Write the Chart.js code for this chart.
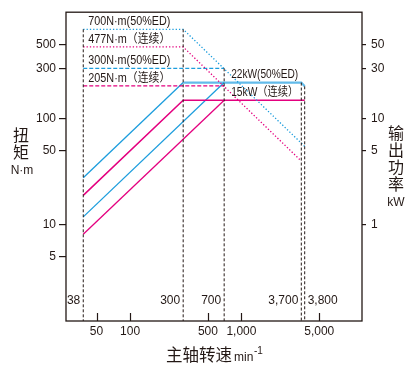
<!DOCTYPE html>
<html>
<head>
<meta charset="utf-8">
<script src="https://cdn.jsdelivr.net/npm/chart.js@4/dist/chart.umd.min.js"></script>
<style>
  html, body { margin: 0; padding: 0; background: #fff; }
  #wrap { width: 409px; height: 365px; position: relative; }
</style>
</head>
<body>
<div id="wrap"><canvas id="spindleChart" width="409" height="365"></canvas></div>
<script>
// tick values
const speedTicks = [50, 100, 500, 1000, 5000];
const torqueTicks = [5, 10, 50, 100, 300, 500];
const powerTicks = [1, 5, 10, 30, 50];

// torque curves (N·m, left axis)
const torque700Speed = [38, 300, 3700];
const torque700 = [700, 700, 55];
const torque477Speed = [38, 300, 3450];
const torque477 = [477, 477, 40];
const torque300Speed = [38, 700];
const torque300 = [300, 300];
const torque205Speed = [38, 700];
const torque205 = [205, 205];

// power curves (kW, right axis)
const power22riseSpeed = [38, 300];
const power22rise = [2.79, 22];
const power22flatSpeed = [300, 3450, 3700];
const power22flat = [22, 22, 20.3];
const power15aSpeed = [38, 300, 3700];
const power15a = [1.9, 15, 15];
const power22bSpeed = [38, 700];
const power22b = [1.19, 22];
const power15bSpeed = [38, 700];
const power15b = [0.816, 15];

// speed marker lines
const markSpeeds = [38, 300, 700, 3450, 3700];
const markTopTorque = [700, 700, 300, 220, 203];
const markLabels = ['38', '300', '700', '3,700', '3,800'];

const torqueLabels = ['700N·m(50%ED)', '477N·m（连续）', '300N·m(50%ED)', '205N·m（连续）'];
const torqueLabelValues = [700, 477, 300, 205];
const powerLabels = ['22kW(50%ED)', '15kW（连续）'];
const powerLabelValues = [22, 15];

const TORQUE_MIN = 1.24, TORQUE_MAX = 1015;
const INK = '#231815', BLUE = '#1c9ddd', PINK = '#e4007f', LIGHTBLUE = '#62bbea';
const NUM_FONT = '"Liberation Sans", Arial, sans-serif';
const CJK_FONT = '"Liberation Sans", "Noto Sans CJK SC", sans-serif';

const pts = (xs, ys) => xs.map((x, i) => ({ x, y: ys[i] }));
const line = (data, color, axis, extra) => Object.assign({
  data, borderColor: color, yAxisID: axis, showLine: true, pointRadius: 0,
  borderWidth: 1.2, fill: false, tension: 0
}, extra || {});

const markerSets = markSpeeds.map((s, i) =>
  line(pts([s, s], [markTopTorque[i], TORQUE_MIN]), INK, 'yT', { borderDash: [3, 2], borderWidth: 1 }));

const fmtSpeed = v => v >= 1000 ? v.toLocaleString('en-US') : String(v);

const decorPlugin = {
  id: 'decor',
  afterDatasetsDraw(chart) {
    const { ctx, chartArea: a, scales } = chart;
    const x = scales.x, yT = scales.yT, yP = scales.yP;
    ctx.save();
    ctx.strokeStyle = INK;
    ctx.lineWidth = 1.3;
    ctx.strokeRect(a.left, a.top, a.right - a.left, a.bottom - a.top);

    // x ticks pointing inward
    ctx.lineWidth = 1.2;
    speedTicks.forEach(v => {
      const px = Math.round(x.getPixelForValue(v)) + 0.5;
      ctx.beginPath(); ctx.moveTo(px, a.bottom); ctx.lineTo(px, a.bottom - 8); ctx.stroke();
    });

    ctx.fillStyle = INK;
    ctx.textBaseline = 'middle';
    ctx.font = '12px ' + CJK_FONT;
    ctx.textAlign = 'left';
    const lx = x.getPixelForValue(38) + 5;
    torqueLabels.forEach((t, i) => {
      ctx.fillText(t, lx, yT.getPixelForValue(torqueLabelValues[i]) - 7.5, 82);
    });
    const px = x.getPixelForValue(700) + 7;
    powerLabels.forEach((t, i) => {
      ctx.fillText(t, px, yP.getPixelForValue(powerLabelValues[i]) - 8, 67);
    });

    // speed labels
    ctx.font = '12px ' + NUM_FONT;
    const ly = a.bottom - 20;
    markLabels.forEach((t, i) => {
      const sx = x.getPixelForValue(markSpeeds[i]);
      if (i === markLabels.length - 1) { ctx.textAlign = 'left'; ctx.fillText(t, sx + 3, ly); }
      else { ctx.textAlign = 'right'; ctx.fillText(t, sx - 3, ly); }
    });

    // axis titles
    ctx.textAlign = 'center';
    ctx.font = '16px "Noto Sans CJK SC", sans-serif';
    ctx.fillText('扭', 21, 135);
    ctx.fillText('矩', 21, 152);
    ['输', '出', '功', '率'].forEach((c, i) => ctx.fillText(c, 396, 133 + i * 17));
    ctx.font = '12px ' + NUM_FONT;
    ctx.fillText('N·m', 22, 171);
    ctx.fillText('kW', 396, 203);

    ctx.textAlign = 'left';
    ctx.font = '16.5px "Noto Sans CJK SC", sans-serif';
    ctx.fillText('主轴转速', 166, 355);
    ctx.font = '12px ' + NUM_FONT;
    ctx.fillText('min', 234, 358);
    ctx.font = '10px ' + NUM_FONT;
    ctx.fillText('-1', 254, 351);
    ctx.restore();
  }
};

const tickFont = { family: NUM_FONT, size: 12 };

new Chart(document.getElementById('spindleChart'), {
  type: 'scatter',
  data: {
    datasets: [
      ...markerSets,
      line(pts(torque700Speed, torque700), BLUE, 'yT', { borderDash: [1.3, 2], borderWidth: 1.3 }),
      line(pts(torque477Speed, torque477), PINK, 'yT', { borderDash: [1.3, 2], borderWidth: 1.3 }),
      line(pts(torque300Speed, torque300), BLUE, 'yT', { borderDash: [4, 2] }),
      line(pts(torque205Speed, torque205), PINK, 'yT', { borderDash: [4, 2] }),
      line(pts(power15aSpeed, power15a), PINK, 'yP', { borderWidth: 1.5 }),
      line(pts(power15bSpeed, power15b), PINK, 'yP', { borderWidth: 1.3 }),
      line(pts(power22bSpeed, power22b), BLUE, 'yP', { borderWidth: 1.3 }),
      line(pts(power22flatSpeed, power22flat), LIGHTBLUE, 'yP', { borderWidth: 2.2 }),
      line(pts(power22riseSpeed, power22rise), BLUE, 'yP', { borderWidth: 1.3 })
    ]
  },
  options: {
    responsive: false,
    animation: false,
    devicePixelRatio: 1,
    layout: { padding: { top: 9, left: 0, right: 0, bottom: 0 } },
    plugins: { legend: { display: false }, tooltip: { enabled: false } },
    scales: {
      x: {
        type: 'logarithmic', min: 26.6, max: 12100,
        grid: { display: false, drawTicks: false },
        border: { display: false },
        afterBuildTicks: s => { s.ticks = speedTicks.map(v => ({ value: v })); },
        afterFit: s => { s.height = 44; },
        ticks: { autoSkip: false, maxRotation: 0, padding: 3, color: INK, font: tickFont,
          callback: v => fmtSpeed(v) }
      },
      yT: {
        type: 'logarithmic', position: 'left', min: TORQUE_MIN, max: TORQUE_MAX,
        grid: { drawOnChartArea: false, tickLength: 7, color: INK, lineWidth: 1.2 },
        border: { display: false },
        afterBuildTicks: s => { s.ticks = torqueTicks.map(v => ({ value: v })); },
        afterFit: s => { s.width = 66; },
        ticks: { autoSkip: false, padding: 3, color: INK, font: tickFont, callback: v => String(v) }
      },
      yP: {
        type: 'logarithmic', position: 'right', min: TORQUE_MIN / 10, max: TORQUE_MAX / 10,
        grid: { drawOnChartArea: false, tickLength: 4, color: INK, lineWidth: 1.2 },
        border: { display: false },
        afterBuildTicks: s => { s.ticks = powerTicks.map(v => ({ value: v })); },
        afterFit: s => { s.width = 47; },
        ticks: { autoSkip: false, padding: 5, color: INK, font: tickFont, callback: v => String(v) }
      }
    }
  },
  plugins: [decorPlugin]
});
</script>
</body>
</html>
